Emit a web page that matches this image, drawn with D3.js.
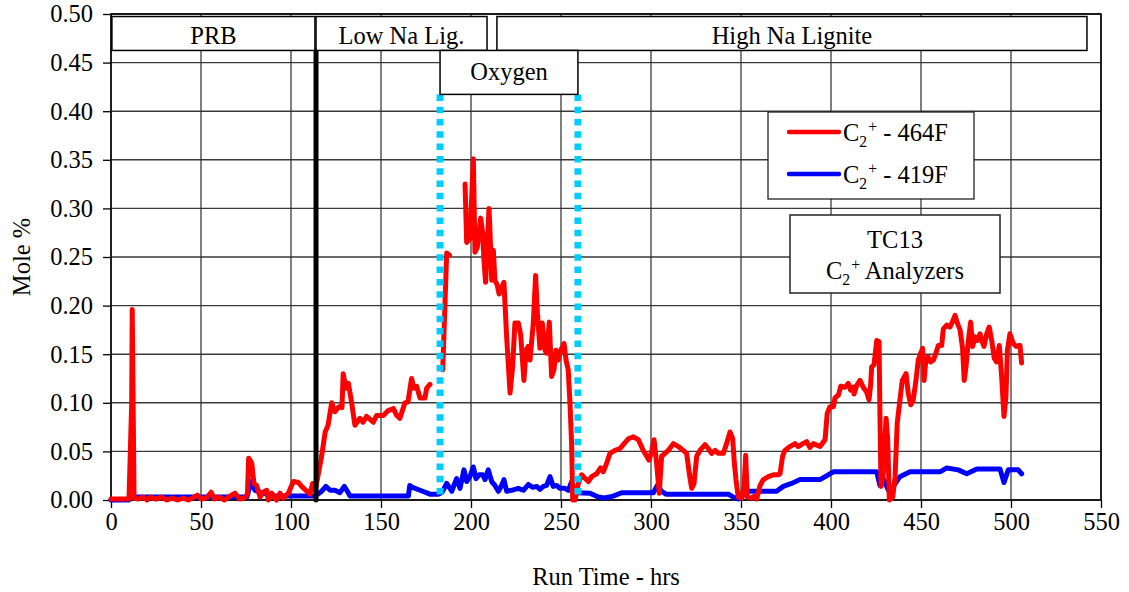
<!DOCTYPE html>
<html>
<head>
<meta charset="utf-8">
<script src="https://cdn.jsdelivr.net/npm/d3@7"></script>
<style>
  html, body { margin: 0; padding: 0; background: #fff; }
  svg { display: block; }
  text { font-family: "Liberation Serif", "Times New Roman", serif; fill: #000; }
</style>
</head>
<body>
<svg id="chart" width="1129" height="592"></svg>
<script>
// Run time (hrs) and mole % readings for the two C2+ analyzers; null marks a data gap.
const redHours = [0,5,10,11.5,11.8,12.8,15,18,20,22,25,28,31,34,37,40,43,46,48,50,53,55.6,57.5,60,63,66,68.9,71.5,74,75.8,76.5,78.2,79.4,80.9,82.8,84.6,86.5,87.4,89.3,92,93.9,95.7,98.5,101.3,104.1,105.9,108.3,110.6,112,113.5,115.2,117,119,120.6,122.6,124.4,126.7,128.3,129,130.5,131.9,133.7,135.5,138.3,140,142,145.7,147.6,151.3,154,156.9,158.7,160.5,163.3,165,167,168.3,169.8,171.7,174.4,175.4,177.2,180,184.3,186.5,188,192,196.7,197.6,199.4,201.3,202.2,203.5,205.4,206.5,207.2,208.1,208.7,210,210.6,211.5,212.4,213.3,214.6,215.6,217,218.3,219.8,221.7,223.1,224.4,226.3,227.6,229.4,230.6,231.8,232.8,234.6,235.9,236.9,238.3,239.6,241.1,242,243.5,244.8,246.1,247.2,248.5,249.8,251.7,252.8,254,255,255.9,256.5,257.8,259.6,261.5,263.5,265.2,267,269.8,272,273.5,275.4,277.2,280,282.8,284.6,287.4,290.2,293,295.7,297.6,298.9,300.4,301.7,303.1,304.6,305.9,307.8,309.6,312.4,315.2,317.9,319.8,321.3,322.6,323.9,325.4,327.2,330,331.8,333.7,335.6,337.4,340.2,342,343.9,345.4,346.3,347.2,348.5,350.4,351.7,352.6,353.5,355.9,357.5,358.7,360.6,362.4,365.2,368,370.7,371.7,373.1,374.4,377.2,380,381.8,384.3,386.5,388.3,390.2,393.9,396.7,397.9,399.4,401.3,402.2,404.1,405.4,407.8,409.6,410.9,412.4,412.8,414.3,416.1,417.9,419.8,421.1,422,422.6,423.9,425.4,426.7,427.2,427.8,429,430.6,431.5,432.4,434.3,435.6,436.8,438.3,439.6,441.7,442.9,444.3,445.7,447.2,448.5,449.8,450.9,451.7,452.8,454,455.4,456.9,458.3,459.6,461.5,462.4,464.3,466.1,467.4,468.9,470.2,471.7,473.1,474,475,476.3,477.6,478.7,480,481.3,482.8,483.7,485,486.5,487.9,489.3,490.7,492,493.5,494.8,496.1,497.2,498,499.4,501.3,502.8,505,505.9];
const redValues = [0.001,0.001,0.001,0.1,0.196,0.002,0.001,0.003,0.0,0.003,0.001,0.003,0.0,0.002,0.0,0.002,0.0,0.003,0.005,0.001,0.002,0.008,0.001,0.003,0.0,0.004,0.007,0.001,0.002,0.006,0.043,0.038,0.017,0.015,0.003,0.008,0.01,0.0,0.007,0.0,0.007,0.002,0.007,0.019,0.018,0.014,0.01,0.006,0.017,0.01,0.027,0.045,0.07,0.077,0.1,0.091,0.096,0.095,0.13,0.115,0.12,0.1,0.077,0.084,0.08,0.086,0.08,0.087,0.087,0.092,0.094,0.087,0.084,0.1,0.101,0.125,0.115,0.117,0.105,0.105,0.115,0.119,null,0.134,0.254,0.252,null,0.325,0.265,0.269,0.351,0.255,0.26,0.29,0.274,0.247,0.224,0.25,0.3,0.274,0.226,0.257,0.226,0.221,0.212,0.218,0.224,0.168,0.11,0.137,0.182,0.182,0.17,0.123,0.154,0.158,0.144,0.182,0.231,0.192,0.156,0.182,0.154,0.151,0.183,0.127,0.134,0.154,0.144,0.154,0.161,0.144,0.134,0.099,0.058,0.0,0.0,0.017,0.026,0.022,0.019,0.024,0.027,0.033,0.029,0.038,0.048,0.051,0.053,0.057,0.063,0.065,0.062,0.051,0.045,0.041,0.05,0.062,0.038,0.007,0.045,0.048,0.051,0.058,0.055,0.051,0.048,0.027,0.012,0.017,0.045,0.051,0.057,0.053,0.048,0.051,0.048,0.048,0.058,0.07,0.063,0.038,0.021,0.003,0.002,0.014,0.046,0.003,0.002,0.004,0.001,0.015,0.021,0.024,0.026,0.026,0.027,0.045,0.051,0.055,0.058,0.055,0.058,0.06,0.054,0.058,0.055,0.062,0.089,0.096,0.096,0.105,0.108,0.117,0.116,0.12,0.113,0.116,0.109,0.118,0.123,0.116,0.111,0.103,0.118,0.137,0.139,0.164,0.163,0.086,0.014,0.027,0.084,0.062,0.0,0.003,0.024,0.079,0.103,0.123,0.13,0.11,0.098,0.103,0.123,0.144,0.151,0.156,0.123,0.146,0.147,0.142,0.144,0.151,0.159,0.159,0.176,0.18,0.178,0.183,0.19,0.182,0.175,0.156,0.123,0.137,0.164,0.183,0.158,0.168,0.164,0.171,0.164,0.158,0.171,0.178,0.164,0.146,0.142,0.159,0.127,0.086,0.106,0.154,0.171,0.161,0.158,0.159,0.141];

const blueHours = [0,10,11.5,20,40,60,75.5,77.8,80,84.6,90,100,113,115,117,119.4,121.7,124.4,127.2,129.6,131.3,132.8,140,150,160,165.2,166,167.5,171.7,177.2,181.8,184,186.5,189.3,192,193.9,196.1,197.6,199.4,201.3,202.8,204.6,206.5,207.8,209.6,211.5,213.3,215.2,217,218.3,219.8,222.6,226.3,229.1,231.9,234.3,236.5,238.3,240.2,242,243.9,245.7,247.6,249.4,252.2,254.1,256,257.2,258.7,266.1,270.7,274.4,279,283.7,301.3,303.5,305.9,308.3,343,345.7,348.5,351.3,352.6,354.1,369.8,373.5,378.1,382.8,393.9,401.3,425.4,427.2,429,431.9,434.6,438.3,443.9,460.6,464.3,470.7,475.4,481,493.9,496.1,498.5,504,505.9];
const blueValues = [0.0,0.0,0.003,0.003,0.003,0.003,0.003,0.019,0.01,0.007,0.004,0.004,0.004,0.006,0.009,0.014,0.01,0.01,0.0075,0.014,0.009,0.004,0.004,0.004,0.004,0.004,0.015,0.013,0.01,0.006,0.006,0.008,0.017,0.009,0.022,0.012,0.031,0.019,0.024,0.034,0.022,0.026,0.026,0.021,0.031,0.019,0.015,0.009,0.015,0.021,0.009,0.01,0.012,0.01,0.016,0.013,0.014,0.011,0.014,0.015,0.024,0.014,0.015,0.012,0.012,0.01,0.019,0.01,0.0075,0.007,0.003,0.002,0.004,0.0075,0.0075,0.015,0.009,0.006,0.006,0.003,0.001,0.005,0.012,0.009,0.009,0.014,0.017,0.021,0.021,0.029,0.029,0.015,0.022,0.01,0.014,0.024,0.029,0.029,0.033,0.031,0.027,0.032,0.032,0.018,0.031,0.031,0.027];

// Axis ticks
const xTicks = [0,50,100,150,200,250,300,350,400,450,500,550];
const yTicks = [0,0.05,0.10,0.15,0.20,0.25,0.30,0.35,0.40,0.45,0.50];

// Campaign phases shown as labelled bands across the top
const phaseLabels = ["PRB", "Low Na Lig.", "High Na Lignite"];
const phaseStart = [0.5, 113.9, 214.4];
const phaseEnd = [113.3, 208.9, 542.2];

// Fuel change marker and oxygen-blown period bounds (hrs)
const fuelChangeHour = 113.9;
const oxygenStart = 182.8;
const oxygenEnd = 259.4;

const margin = { left: 111, right: 28, top: 14, bottom: 92 };
const W = 1129, H = 592;
const svg = d3.select("#chart");

const x = d3.scaleLinear().domain([0, 550]).range([margin.left, W - margin.right]);
const y = d3.scaleLinear().domain([0, 0.5]).range([H - margin.bottom, margin.top]);

const FS = 24.5;

// Gridlines
svg.append("g").selectAll("line").data(yTicks).join("line")
  .attr("x1", x(0)).attr("x2", x(550))
  .attr("y1", d => y(d)).attr("y2", d => y(d))
  .attr("stroke", "#3a3a3a").attr("stroke-width", 1.4);
svg.append("g").selectAll("line").data(xTicks).join("line")
  .attr("x1", d => x(d)).attr("x2", d => x(d))
  .attr("y1", y(0)).attr("y2", y(0.5))
  .attr("stroke", "#2a2a2a").attr("stroke-width", 1.2);

// Axes
const xAxis = svg.append("g").attr("transform", `translate(0,${y(0)})`)
  .call(d3.axisBottom(x).tickValues(xTicks).tickSize(8).tickPadding(5).tickFormat(d3.format("d")));
const yAxis = svg.append("g").attr("transform", `translate(${x(0)},0)`)
  .call(d3.axisLeft(y).tickValues(yTicks).tickSize(8).tickPadding(10).tickFormat(d3.format(".2f")));
[xAxis, yAxis].forEach(g => {
  g.select(".domain").remove();
  g.selectAll("line").attr("stroke", "#000").attr("stroke-width", 1.3);
  g.selectAll("text").attr("font-size", FS).attr("font-family", "Liberation Serif");
});

// Plot frame
svg.append("rect")
  .attr("x", x(0)).attr("y", y(0.5))
  .attr("width", x(550) - x(0)).attr("height", y(0) - y(0.5))
  .attr("fill", "none").attr("stroke", "#000").attr("stroke-width", 1.5);

// Axis titles
svg.append("text").attr("x", (x(0) + x(550)) / 2).attr("y", 585)
  .attr("text-anchor", "middle").attr("font-size", FS).text("Run Time - hrs");
svg.append("text").attr("transform", `translate(30,${(y(0) + y(0.5)) / 2}) rotate(-90)`)
  .attr("text-anchor", "middle").attr("font-size", FS).text("Mole %");

// Series
const toPoints = (hs, vs) => hs.map((h, i) => ({ h, v: vs[i] }));
const line = d3.line().defined(d => d.v != null).x(d => x(d.h)).y(d => y(d.v));

svg.append("path").datum(toPoints(blueHours, blueValues))
  .attr("d", line).attr("fill", "none").attr("stroke", "#0000FF")
  .attr("stroke-width", 5).attr("stroke-linejoin", "round").attr("stroke-linecap", "round");
svg.append("path").datum(toPoints(redHours, redValues))
  .attr("d", line).attr("fill", "none").attr("stroke", "#FF0000")
  .attr("stroke-width", 5).attr("stroke-linejoin", "round").attr("stroke-linecap", "round");

// Fuel change marker
const phaseBottom = 0.4625;
svg.append("line")
  .attr("x1", x(fuelChangeHour)).attr("x2", x(fuelChangeHour))
  .attr("y1", y(0)).attr("y2", y(phaseBottom))
  .attr("stroke", "#000").attr("stroke-width", 5).attr("stroke-linecap", "round");

// Oxygen-period bounds
const oxyTop = 0.4173;
[oxygenStart, oxygenEnd].forEach(h => {
  svg.append("line")
    .attr("x1", x(h)).attr("x2", x(h))
    .attr("y1", y(oxyTop)).attr("y2", y(0))
    .attr("stroke", "#00CCFF").attr("stroke-width", 7)
    .attr("stroke-dasharray", "6.5,5.8");
});

// Phase bands
const phaseTop = 0.4974;
phaseLabels.forEach((lab, i) => {
  svg.append("rect")
    .attr("x", x(phaseStart[i])).attr("y", y(phaseTop))
    .attr("width", x(phaseEnd[i]) - x(phaseStart[i])).attr("height", y(phaseBottom) - y(phaseTop))
    .attr("fill", "#fff").attr("stroke", "#000").attr("stroke-width", 1.5);
  svg.append("text")
    .attr("x", (x(phaseStart[i]) + x(phaseEnd[i])) / 2).attr("y", y(phaseTop) + 27)
    .attr("text-anchor", "middle").attr("font-size", FS).text(lab);
});

// Oxygen label
svg.append("rect")
  .attr("x", x(oxygenStart)).attr("y", y(phaseBottom))
  .attr("width", x(oxygenEnd) - x(oxygenStart)).attr("height", y(oxyTop) - y(phaseBottom))
  .attr("fill", "#fff").attr("stroke", "#000").attr("stroke-width", 1.5);
svg.append("text")
  .attr("x", (x(oxygenStart) + x(oxygenEnd)) / 2).attr("y", y(phaseBottom) + 30)
  .attr("text-anchor", "middle").attr("font-size", FS).text("Oxygen");

// Helper for "C2+" text with subscript and superscript
function c2plus(sel) {
  sel.append("tspan").text("C");
  sel.append("tspan").attr("font-size", FS * 0.64).attr("dy", 6).text("2");
  sel.append("tspan").attr("font-size", FS * 0.64).attr("dx", 1).attr("dy", -15).text("+");
  return sel;
}

// Legend
const legendSeries = [
  { name: " - 464F", color: "#FF0000" },
  { name: " - 419F", color: "#0000FF" }
];
const lg = svg.append("g");
lg.append("rect").attr("x", 768).attr("y", 112).attr("width", 206).attr("height", 87)
  .attr("fill", "#fff").attr("stroke", "#222").attr("stroke-width", 1.3);
legendSeries.forEach((s, i) => {
  const cy = 132 + i * 42;
  lg.append("line").attr("x1", 789).attr("x2", 839).attr("y1", cy).attr("y2", cy)
    .attr("stroke", s.color).attr("stroke-width", 4.5).attr("stroke-linecap", "round");
  const t = lg.append("text").attr("x", 843).attr("y", cy + 9).attr("font-size", FS);
  c2plus(t);
  t.append("tspan").attr("dy", 9).text(s.name);
});

// Chart caption box
const cb = svg.append("g");
cb.append("rect").attr("x", 790).attr("y", 215).attr("width", 210).attr("height", 78)
  .attr("fill", "#fff").attr("stroke", "#222").attr("stroke-width", 1.5);
cb.append("text").attr("x", 895).attr("y", 248).attr("text-anchor", "middle")
  .attr("font-size", FS).text("TC13");
const cap = cb.append("text").attr("x", 895).attr("y", 279).attr("text-anchor", "middle")
  .attr("font-size", FS);
c2plus(cap);
cap.append("tspan").attr("dy", 9).text(" Analyzers");
</script>
</body>
</html>
